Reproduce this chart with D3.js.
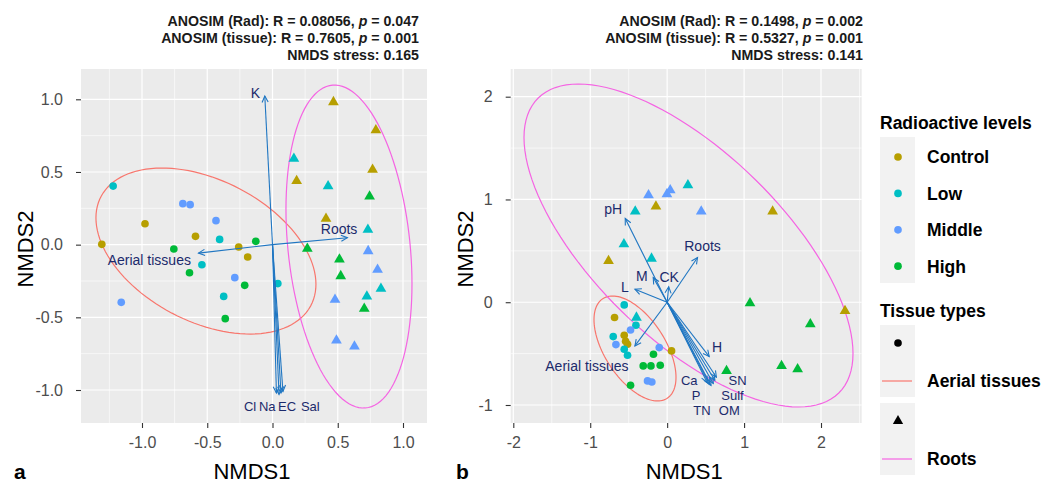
<!DOCTYPE html>
<html>
<head>
<meta charset="utf-8">
<script src="https://cdn.jsdelivr.net/npm/d3@7"></script>
<style>
  body { margin: 0; background: #fff; }
  svg { display: block; font-family: "Liberation Sans", Arial, sans-serif; }
</style>
</head>
<body>
<div id="chart"></div>
<script>

// radiation levels and tissue groups
const levels = ["Control", "Low", "Middle", "High"];
const levelColors = ["#B79F00", "#00BFC4", "#619CFF", "#00BA38"];
const tissues = ["Aerial tissues", "Roots"];
const tissueColors = ["#F8766D", "#F564E3"];

// panel a: NMDS scores [NMDS1, NMDS2, level]
const aerialA = [
  [-1.221, 0.403, "Low"], [-0.687, 0.282, "Middle"], [-0.631, 0.275, "Middle"],
  [-0.977, 0.144, "Control"], [-0.433, 0.165, "Middle"], [-0.590, 0.057, "Control"],
  [-1.308, 0.002, "Control"], [-0.405, 0.036, "Low"], [-0.128, 0.023, "High"],
  [-0.756, -0.030, "High"], [-0.259, -0.016, "Control"], [-0.190, -0.085, "Control"],
  [-0.541, -0.138, "Low"], [-0.636, -0.193, "High"], [-0.289, -0.227, "Middle"],
  [-0.213, -0.280, "High"], [0.041, -0.268, "Low"], [-1.159, -0.397, "Middle"],
  [-0.374, -0.356, "Low"], [-0.362, -0.509, "High"]
];
const rootsA = [
  [0.467, 0.981, "Control"], [0.792, 0.787, "Control"], [0.164, 0.592, "Low"],
  [0.767, 0.516, "Control"], [0.185, 0.438, "Control"], [0.426, 0.403, "Low"],
  [0.744, 0.332, "High"], [0.410, 0.179, "Control"], [0.731, 0.103, "Low"],
  [0.267, -0.028, "High"], [0.733, -0.044, "Middle"], [0.513, -0.101, "High"],
  [0.805, -0.172, "Middle"], [0.523, -0.216, "High"], [0.831, -0.303, "Low"],
  [0.479, -0.379, "Middle"], [0.723, -0.356, "Low"], [0.703, -0.441, "High"],
  [0.490, -0.659, "Middle"], [0.628, -0.700, "Middle"]
];
// env fit vectors [name, x, y, labelX, labelY]
const arrowsA = [
  ["K", -0.059, 1.023, -0.131, 1.043],
  ["Roots", 0.574, 0.048, 0.51, 0.11],
  ["Aerial tissues", -0.567, -0.058, -0.944, -0.108],
  ["Cl", 0.03, -1.02, -0.172, -1.113],
  ["Na", 0.05, -1.03, -0.040, -1.113],
  ["EC", 0.065, -1.02, 0.112, -1.113],
  ["Sal", 0.08, -1.01, 0.290, -1.113]
];
// 95% ellipses: centre and covariance
const ellipsesA = [
  { tissue: "Aerial tissues", cx: -0.510, cy: -0.044, sxx: 0.7105, sxy: -0.1924, syy: 0.3261 },
  { tissue: "Roots", cx: 0.586, cy: -0.013, sxx: 0.2331, sxy: -0.1235, syy: 1.2345 }
];
const headerA = [
  ["ANOSIM (Rad): R = 0.08056, ", "p", " = 0.047"],
  ["ANOSIM (tissue): R = 0.7605, ", "p", " = 0.001"],
  ["NMDS stress: 0.165", "", ""]
];
const xTicksA = [-1.0, -0.5, 0.0, 0.5, 1.0];
const yTicksA = [-1.0, -0.5, 0.0, 0.5, 1.0];

// panel b
const aerialB = [
  [-0.558, -0.026, "Low"], [-0.684, -0.149, "Control"], [-0.406, -0.224, "Low"],
  [-0.476, -0.270, "Middle"], [-0.558, -0.321, "Control"], [-0.701, -0.334, "Low"],
  [-0.666, -0.412, "Middle"], [-0.515, -0.409, "Control"], [-0.540, -0.380, "Control"],
  [-0.558, -0.458, "Low"], [-0.515, -0.516, "Low"], [-0.103, -0.441, "Middle"],
  [0.057, -0.474, "Control"], [-0.178, -0.506, "High"], [-0.311, -0.620, "High"],
  [-0.211, -0.620, "High"], [-0.090, -0.613, "High"], [-0.255, -0.766, "Middle"],
  [-0.199, -0.776, "Middle"], [-0.476, -0.808, "High"]
];
const rootsB = [
  [-0.242, 1.042, "Middle"], [-0.003, 1.052, "Middle"], [0.040, 1.090, "Middle"],
  [0.270, 1.139, "Low"], [-0.146, 0.932, "Control"], [-0.415, 0.883, "Low"],
  [0.443, 0.883, "Middle"], [1.371, 0.883, "Control"], [-0.562, 0.565, "Low"],
  [-0.762, 0.402, "Control"], [-0.203, 0.425, "Low"], [1.077, -0.010, "High"],
  [2.312, -0.085, "Control"], [1.861, -0.214, "High"], [-0.399, -0.149, "Low"],
  [1.487, -0.620, "High"], [1.696, -0.652, "High"], [0.772, -0.669, "High"]
];
const arrowsB = [
  ["pH", -0.545, 0.815, -0.701, 0.906],
  ["Roots", 0.395, 0.435, 0.46, 0.542],
  ["M", -0.181, 0.24, -0.328, 0.256],
  ["CK", 0.02, 0.15, 0.027, 0.24],
  ["L", -0.419, 0.127, -0.549, 0.143],
  ["Aerial tissues", -0.419, -0.425, -1.043, -0.62],
  ["H", 0.547, -0.529, 0.648, -0.441],
  ["Ca", 0.52, -0.78, 0.287, -0.757],
  ["SN", 0.64, -0.73, 0.915, -0.757],
  ["Sulf", 0.62, -0.76, 0.850, -0.903],
  ["P", 0.55, -0.80, 0.375, -0.903],
  ["TN", 0.57, -0.81, 0.453, -1.049],
  ["OM", 0.60, -0.79, 0.808, -1.049]
];
const ellipsesB = [
  { tissue: "Aerial tissues", cx: -0.418, cy: -0.450, sxx: 0.2841, sxy: -0.1494, syy: 0.2609 },
  { tissue: "Roots", cx: 0.2775, cy: 0.552, sxx: 4.573, sxy: -2.247, syy: 2.4694 }
];
const headerB = [
  ["ANOSIM (Rad): R = 0.1498, ", "p", " = 0.002"],
  ["ANOSIM (tissue): R = 0.5327, ", "p", " = 0.001"],
  ["NMDS stress: 0.141", "", ""]
];
const xTicksB = [-2, -1, 0, 1, 2];
const yTicksB = [-1, 0, 1, 2];


const W = 1046, H = 484;
const svg = d3.select("#chart").append("svg").attr("width", W).attr("height", H);

const colorScale = d3.scaleOrdinal().domain(levels).range(levelColors);
const tissueScale = d3.scaleOrdinal().domain(tissues).range(tissueColors);

const labelColor = "#1B2A6B";
const arrowColor = "#1F76C2";

function ellipsePoints(e, n) {
  // cholesky of covariance, unit circle mapped onto it
  const a = Math.sqrt(e.sxx);
  const b = e.sxy / a;
  const c = Math.sqrt(e.syy - b * b);
  return d3.range(n + 1).map(i => {
    const t = 2 * Math.PI * i / n;
    const u = Math.cos(t), v = Math.sin(t);
    return [e.cx + a * u, e.cy + b * u + c * v];
  });
}

function drawPanel(p) {
  const x = d3.scaleLinear().domain(p.xDomain).range([p.left, p.right]);
  const y = d3.scaleLinear().domain(p.yDomain).range([p.bottom, p.top]);
  const g = svg.append("g");

  g.append("rect")
    .attr("x", p.left).attr("y", p.top)
    .attr("width", p.right - p.left).attr("height", p.bottom - p.top)
    .attr("fill", "#EBEBEB");

  const clipId = "clip-" + p.tag;
  svg.append("clipPath").attr("id", clipId).append("rect")
    .attr("x", p.left).attr("y", p.top)
    .attr("width", p.right - p.left).attr("height", p.bottom - p.top);

  // grid, minor first
  const step = p.xTicks[1] - p.xTicks[0];
  const xMinor = d3.range(p.xDomain[0] - step, p.xDomain[1] + step, step / 2)
    .map(v => Math.round(v / (step / 2)) * (step / 2))
    .filter(v => v > p.xDomain[0] && v < p.xDomain[1] && !p.xTicks.some(t => Math.abs(t - v) < 1e-9));
  const ystep = p.yTicks[1] - p.yTicks[0];
  const yMinor = d3.range(p.yDomain[0] - ystep, p.yDomain[1] + ystep, ystep / 2)
    .map(v => Math.round(v / (ystep / 2)) * (ystep / 2))
    .filter(v => v > p.yDomain[0] && v < p.yDomain[1] && !p.yTicks.some(t => Math.abs(t - v) < 1e-9));

  g.selectAll(".xminor").data(xMinor).enter().append("line")
    .attr("x1", d => x(d)).attr("x2", d => x(d))
    .attr("y1", p.top).attr("y2", p.bottom)
    .attr("stroke", "#fff").attr("stroke-width", 0.6);
  g.selectAll(".yminor").data(yMinor).enter().append("line")
    .attr("y1", d => y(d)).attr("y2", d => y(d))
    .attr("x1", p.left).attr("x2", p.right)
    .attr("stroke", "#fff").attr("stroke-width", 0.6);
  g.selectAll(".xmajor").data(p.xTicks).enter().append("line")
    .attr("x1", d => x(d)).attr("x2", d => x(d))
    .attr("y1", p.top).attr("y2", p.bottom)
    .attr("stroke", "#fff").attr("stroke-width", 1.2);
  g.selectAll(".ymajor").data(p.yTicks).enter().append("line")
    .attr("y1", d => y(d)).attr("y2", d => y(d))
    .attr("x1", p.left).attr("x2", p.right)
    .attr("stroke", "#fff").attr("stroke-width", 1.2);

  // axes
  const fmt = d => d3.format(p.fmt)(d).replace("\u2212", "-");
  const xAxis = g.append("g").attr("transform", "translate(0," + p.bottom + ")")
    .call(d3.axisBottom(x).tickValues(p.xTicks).tickFormat(fmt).tickSize(5).tickPadding(9));
  const yAxis = g.append("g").attr("transform", "translate(" + p.left + ",0)")
    .call(d3.axisLeft(y).tickValues(p.yTicks).tickFormat(fmt).tickSize(5).tickPadding(13));
  [xAxis, yAxis].forEach(a => {
    a.select(".domain").remove();
    a.selectAll(".tick line").attr("stroke", "#333").attr("stroke-width", 1.1);
    a.selectAll(".tick text").attr("fill", "#4D4D4D")
      .style("font-size", "16px").style("font-family", "Liberation Sans, Arial, sans-serif");
  });

  g.append("text")
    .attr("x", (p.left + p.right) / 2 - 2).attr("y", 479)
    .attr("text-anchor", "middle")
    .style("font-size", "22px").attr("fill", "#000")
    .text("NMDS1");
  g.append("text")
    .attr("transform", "translate(" + p.yTitleX + "," + ((p.top + p.bottom) / 2 + 3) + ") rotate(-90)")
    .attr("text-anchor", "middle")
    .style("font-size", "22px").attr("fill", "#000")
    .text("NMDS2");

  const body = g.append("g").attr("clip-path", "url(#" + clipId + ")");

  // ellipses
  const line = d3.line().x(d => x(d[0])).y(d => y(d[1]));
  body.selectAll(".ell").data(p.ellipses).enter().append("path")
    .attr("d", d => line(ellipsePoints(d, 120)))
    .attr("fill", "none")
    .attr("stroke", d => tissueScale(d.tissue))
    .attr("stroke-width", 1.2);

  // points
  const circle = d3.symbol().type(d3.symbolCircle).size(46);
  const tri = d3.symbol().type(d3.symbolTriangle).size(50);
  body.selectAll(".aer").data(p.aerial).enter().append("path")
    .attr("d", circle)
    .attr("transform", d => "translate(" + x(d[0]) + "," + y(d[1]) + ")")
    .attr("fill", d => colorScale(d[2]));
  body.selectAll(".roo").data(p.roots).enter().append("path")
    .attr("d", tri)
    .attr("transform", d => "translate(" + x(d[0]) + "," + y(d[1]) + ")")
    .attr("fill", d => colorScale(d[2]));

  // vectors
  const x0 = x(0), y0 = y(0);
  const arr = body.selectAll(".arr").data(p.arrows).enter().append("g");
  arr.append("line")
    .attr("x1", x0).attr("y1", y0)
    .attr("x2", d => x(d[1])).attr("y2", d => y(d[2]))
    .attr("stroke", arrowColor).attr("stroke-width", 1.1);
  arr.append("path")
    .attr("d", d => {
      const tx = x(d[1]), ty = y(d[2]);
      const ang = Math.atan2(ty - y0, tx - x0);
      const len = 7, spread = 0.45;
      const ax = tx - len * Math.cos(ang - spread), ay = ty - len * Math.sin(ang - spread);
      const bx = tx - len * Math.cos(ang + spread), by = ty - len * Math.sin(ang + spread);
      return "M" + ax + "," + ay + "L" + tx + "," + ty + "L" + bx + "," + by;
    })
    .attr("fill", "none")
    .attr("stroke", arrowColor).attr("stroke-width", 1.1);
  body.selectAll(".alab").data(p.arrows).enter().append("text")
    .attr("x", d => x(d[3])).attr("y", d => y(d[4]))
    .attr("dy", "0.35em")
    .attr("text-anchor", "middle")
    .attr("fill", labelColor)
    .style("font-size", d => p.smallLabels.includes(d[0]) ? "13px" : "14px")
    .text(d => d[0]);

  // header lines above the panel
  p.header.forEach((h, i) => {
    const t = g.append("text")
      .attr("x", p.headerX).attr("y", 26 + i * 17)
      .attr("text-anchor", "end")
      .style("font-size", "14.2px").style("font-weight", "bold")
      .attr("fill", "#1a1a1a");
    t.append("tspan").text(h[0]);
    if (h[1]) t.append("tspan").style("font-style", "italic").text(h[1]);
    if (h[2]) t.append("tspan").text(h[2]);
  });

  svg.append("text")
    .attr("x", p.tagX).attr("y", 479)
    .style("font-size", "21px").style("font-weight", "bold")
    .text(p.tag);
}

drawPanel({
  tag: "a", tagX: 14, headerX: 419, yTitleX: 33,
  left: 81, right: 427, top: 69, bottom: 423,
  xDomain: [-1.4674, 1.1839], yDomain: [-1.2270, 1.2085],
  xTicks: xTicksA, yTicks: yTicksA, fmt: ".1f",
  aerial: aerialA, roots: rootsA, arrows: arrowsA, ellipses: ellipsesA, header: headerA,
  smallLabels: ["Cl", "Na", "EC", "Sal"]
});

drawPanel({
  tag: "b", tagX: 456, headerX: 863, yTitleX: 473,
  left: 510.7, right: 861.7, top: 69, bottom: 423,
  xDomain: [-2.0338, 2.529], yDomain: [-1.1752, 2.2695],
  xTicks: xTicksB, yTicks: yTicksB, fmt: "d",
  aerial: aerialB, roots: rootsB, arrows: arrowsB, ellipses: ellipsesB, header: headerB,
  smallLabels: ["Ca", "SN", "Sulf", "P", "TN", "OM"]
});

// legend
const leg = svg.append("g");
leg.append("text").attr("x", 880).attr("y", 129)
  .style("font-size", "17.5px").style("font-weight", "bold")
  .text("Radioactive levels");
leg.append("rect").attr("x", 880).attr("y", 137).attr("width", 35).attr("height", 146)
  .attr("fill", "#F2F2F2");
const lv = leg.selectAll(".lv").data(levels).enter().append("g")
  .attr("transform", (d, i) => "translate(898," + (157 + i * 36.4) + ")");
lv.append("path").attr("d", d3.symbol().type(d3.symbolCircle).size(46))
  .attr("fill", d => colorScale(d));
lv.append("text").attr("x", 29).attr("dy", "0.36em")
  .style("font-size", "17.5px").style("font-weight", "bold")
  .text(d => d);

leg.append("text").attr("x", 880).attr("y", 317)
  .style("font-size", "17.5px").style("font-weight", "bold")
  .text("Tissue types");
const shapes = [d3.symbolCircle, d3.symbolTriangle];
const tk = leg.selectAll(".tk").data(tissues).enter().append("g")
  .attr("transform", (d, i) => "translate(0," + (325 + i * 78) + ")");
tk.append("rect").attr("x", 880).attr("width", 35).attr("height", 72).attr("fill", "#F2F2F2");
tk.append("path")
  .attr("d", (d, i) => d3.symbol().type(shapes[i]).size(46)())
  .attr("transform", "translate(898,18)")
  .attr("fill", "#000");
tk.append("line").attr("x1", 882).attr("x2", 912).attr("y1", 56).attr("y2", 56)
  .attr("stroke", d => tissueScale(d)).attr("stroke-width", 1.2);
tk.append("text").attr("x", 927).attr("y", 56).attr("dy", "0.36em")
  .style("font-size", "17.5px").style("font-weight", "bold")
  .text(d => d);

</script>
</body>
</html>
